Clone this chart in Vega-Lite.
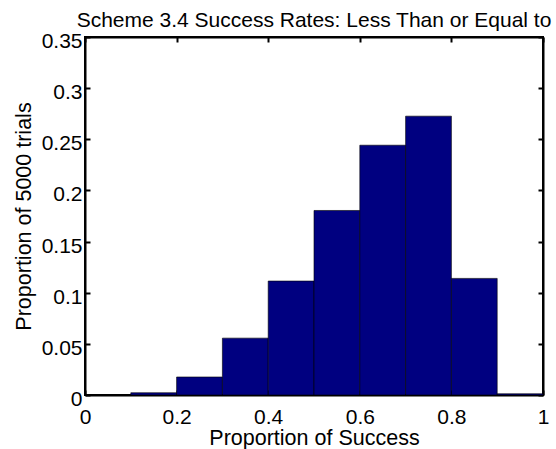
{
  "$schema": "https://vega.github.io/schema/vega-lite/v6.json",
  "width": 458,
  "height": 358,
  "autosize": {"type": "none"},
  "padding": {"left": 85, "top": 37, "right": 13, "bottom": 54},
  "background": "white",
  "config": {
    "font": "Liberation Sans",
    "view": {"stroke": "black", "strokeWidth": 2},
    "axis": {"grid": false, "domainColor": "black", "domainWidth": 2, "tickColor": "black", "tickWidth": 2, "labelColor": "black", "titleColor": "black", "labelFont": "Liberation Sans", "titleFont": "Liberation Sans", "labelFontSize": 21, "titleFontSize": 21.5, "titleFontWeight": "normal"}
  },
  "title": {"text": "Scheme 3.4 Success Rates: Less Than or Equal to", "fontSize": 21, "fontWeight": "normal", "font": "Liberation Sans", "color": "black", "anchor": "middle", "offset": 0},
  "data": {
    "values": [
      {"bin_start": 0.0, "bin_end": 0.1, "proportion": 0.0},
      {"bin_start": 0.1, "bin_end": 0.2, "proportion": 0.0022},
      {"bin_start": 0.2, "bin_end": 0.3, "proportion": 0.0176},
      {"bin_start": 0.3, "bin_end": 0.4, "proportion": 0.0556},
      {"bin_start": 0.4, "bin_end": 0.5, "proportion": 0.1114},
      {"bin_start": 0.5, "bin_end": 0.6, "proportion": 0.1804},
      {"bin_start": 0.6, "bin_end": 0.7, "proportion": 0.2442},
      {"bin_start": 0.7, "bin_end": 0.8, "proportion": 0.2726},
      {"bin_start": 0.8, "bin_end": 0.9, "proportion": 0.114},
      {"bin_start": 0.9, "bin_end": 1.0, "proportion": 0.0012}
    ]
  },
  "resolve": {"axis": {"x": "independent", "y": "independent"}},
  "layer": [
    {
      "mark": {"type": "rect", "color": "#000080", "stroke": "black", "strokeWidth": 0.6},
      "encoding": {
        "x": {"field": "bin_start", "type": "quantitative", "scale": {"domain": [0, 1], "nice": false, "zero": false},
              "axis": {"orient": "bottom", "title": "Proportion of Success", "values": [0, 0.2, 0.4, 0.6, 0.8, 1], "format": "~g", "tickSize": -5, "labelPadding": 16, "titlePadding": 0, "labelFlush": false}},
        "x2": {"field": "bin_end"},
        "y": {"field": "proportion", "type": "quantitative", "scale": {"domain": [0, 0.35], "nice": false},
              "axis": {"orient": "left", "title": "Proportion of 5000 trials", "values": [0, 0.05, 0.1, 0.15, 0.2, 0.25, 0.3, 0.35], "format": "~g", "tickSize": -5, "labelPadding": 8, "labelOffset": 4.5, "titlePadding": 6, "labelFlush": false}},
        "y2": {"datum": 0}
      }
    },
    {
      "mark": {"type": "rect", "opacity": 0},
      "encoding": {
        "x": {"field": "bin_start", "type": "quantitative", "scale": {"domain": [0, 1], "nice": false, "zero": false},
              "axis": {"orient": "top", "title": null, "labels": false, "values": [0, 0.2, 0.4, 0.6, 0.8, 1], "tickSize": -5}},
        "x2": {"field": "bin_end"},
        "y": {"field": "proportion", "type": "quantitative", "scale": {"domain": [0, 0.35], "nice": false},
              "axis": {"orient": "right", "title": null, "labels": false, "values": [0, 0.05, 0.1, 0.15, 0.2, 0.25, 0.3, 0.35], "tickSize": -5}},
        "y2": {"datum": 0}
      }
    }
  ]
}
